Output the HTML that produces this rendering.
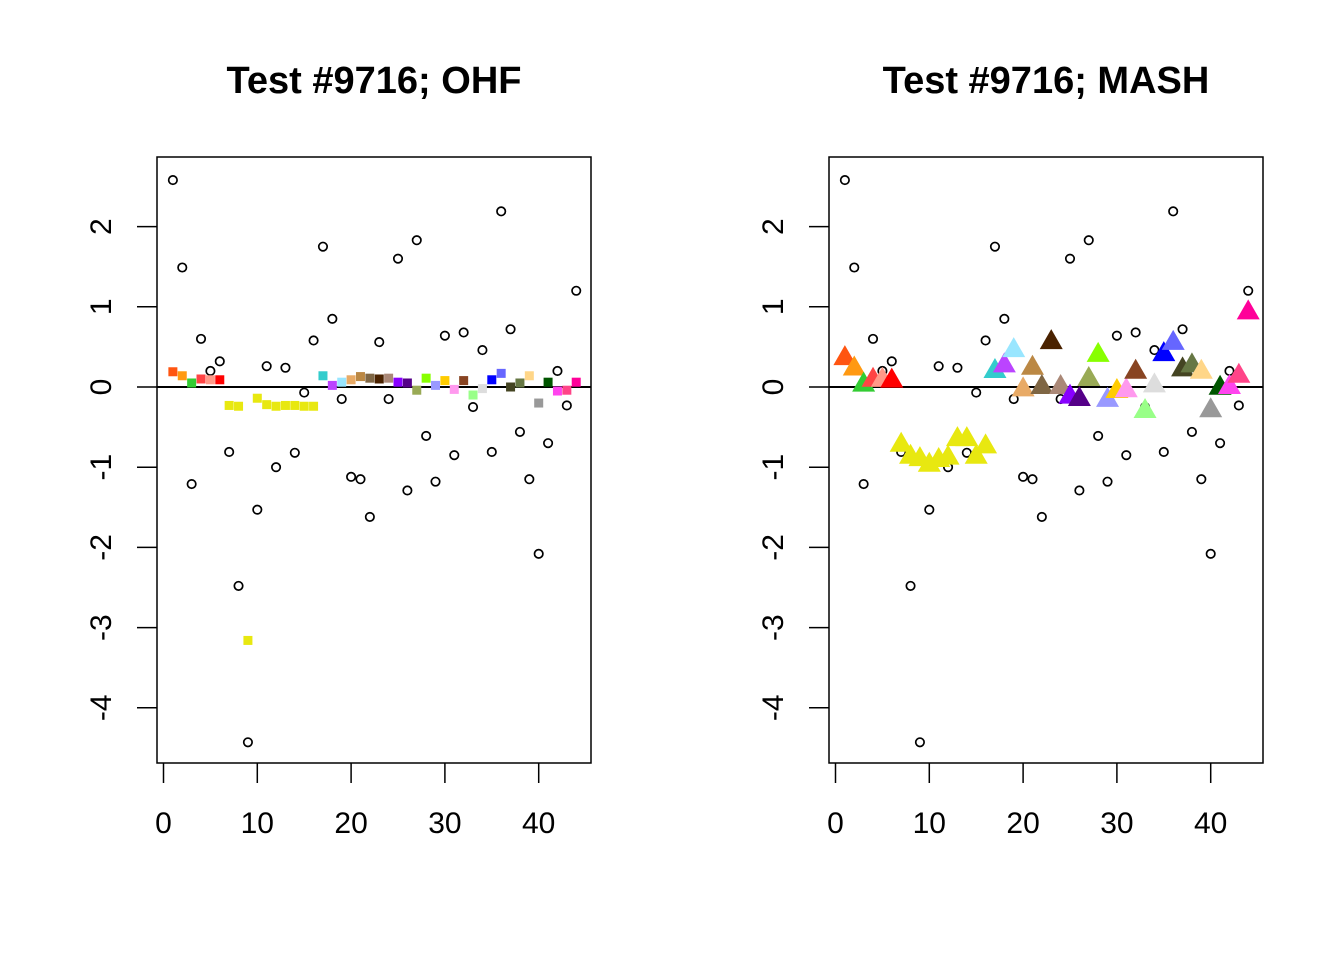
<!DOCTYPE html>
<html><head><meta charset="utf-8"><style>body{margin:0;background:#fff}svg{display:block}</style></head>
<body>
<svg id="chart" width="1344" height="960" xmlns="http://www.w3.org/2000/svg"></svg>
<script>
const xs = [1,2,3,4,5,6,7,8,9,10,11,12,13,14,15,16,17,18,19,20,21,22,23,24,25,26,27,28,29,30,31,32,33,34,35,36,37,38,39,40,41,42,43,44];
const obsValues = [2.58,1.49,-1.21,0.6,0.2,0.32,-0.81,-2.48,-4.43,-1.53,0.26,-1.0,0.24,-0.82,-0.07,0.58,1.75,0.85,-0.15,-1.12,-1.15,-1.62,0.56,-0.15,1.6,-1.29,1.83,-0.61,-1.18,0.64,-0.85,0.68,-0.25,0.46,-0.81,2.19,0.72,-0.56,-1.15,-2.08,-0.7,0.2,-0.23,1.2];
const ohfValues = [0.19,0.14,0.05,0.1,0.09,0.09,-0.23,-0.24,-3.16,-0.14,-0.22,-0.24,-0.23,-0.23,-0.24,-0.24,0.14,0.02,0.06,0.09,0.13,0.11,0.1,0.11,0.06,0.05,-0.04,0.11,0.02,0.08,-0.03,0.08,-0.1,-0.02,0.09,0.17,0.0,0.05,0.14,-0.2,0.06,-0.05,-0.04,0.06];
const mashValues = [0.36,0.23,0.03,0.09,0.09,0.08,-0.72,-0.87,-0.9,-0.97,-0.91,-0.88,-0.65,-0.65,-0.87,-0.74,0.2,0.27,0.46,-0.03,0.24,0.0,0.56,0.0,-0.12,-0.15,0.1,0.4,-0.16,-0.05,-0.04,0.19,-0.3,0.02,0.41,0.55,0.22,0.27,0.19,-0.29,-0.01,0.0,0.14,0.93];
const colors = ["#FF5511","#FF9911","#33CC33","#FF4444","#FF9988","#FF0000","#E8E810","#E8E810","#E8E810","#E8E810","#E8E810","#E8E810","#E8E810","#E8E810","#E8E810","#E8E810","#33CCCC","#BB44FF","#99E6FF","#E8AA66","#BB8844","#7F6644","#4A2200","#AA8877","#8800FF","#550088","#99AA55","#88FF00","#9999FF","#FFCC00","#FF99EE","#884422","#99FF88","#DDDDDD","#0000FF","#6666FF","#444422","#667744","#FFD688","#999999","#005500","#FF44EE","#FF4488","#FF0099"];
const xTicks = [0,10,20,30,40];
const yTicks = [-4,-3,-2,-1,0,1,2];
const titles = ["Test #9716; OHF","Test #9716; MASH"];

const NS="http://www.w3.org/2000/svg";
const svg=document.getElementById('chart');
function mk(tag,attrs,parent){const e=document.createElementNS(NS,tag);for(const k in attrs)e.setAttribute(k,attrs[k]);(parent||svg).appendChild(e);return e;}
const FONT='"Liberation Sans", Arial, sans-serif';

[0,1].forEach(p=>{
  const off=p*672;
  const X=v=>163.5+off+v*9.38;
  const Y=v=>387-v*80.2;
  const g=mk('g',{});
  
  
  const t=mk('text',{x:374+off,y:93,'text-anchor':'middle','font-family':FONT,'font-weight':'bold','font-size':38},g);
  t.textContent=titles[p];
  
  
  const box=mk('rect',{x:157+off,y:157,width:434,height:606,fill:'none',stroke:'#000','stroke-width':1.5},g);
  
  
  xTicks.forEach(v=>{
    const l=mk('line',{x1:X(v),x2:X(v),y1:763,y2:783,stroke:'#000','stroke-width':1.5},g);
    
    
    const tx=mk('text',{x:X(v),y:833,'text-anchor':'middle','font-family':FONT,'font-size':30},g);
    tx.textContent=v;
    
    
  });
  yTicks.forEach(v=>{
    const l=mk('line',{x1:137+off,x2:157+off,y1:Y(v),y2:Y(v),stroke:'#000','stroke-width':1.5},g);
    
    
    const tx=mk('text',{x:0,y:0,'text-anchor':'middle','font-family':FONT,'font-size':30,transform:`translate(${111+off},${Y(v)}) rotate(-90)`},g);
    tx.textContent=v;
    
    
  });
  const zl=mk('line',{x1:157+off,x2:591+off,y1:Y(0),y2:Y(0),stroke:'#000','stroke-width':2},g);
  
  
  xs.forEach((x,i)=>{
    const c=mk('circle',{cx:X(x),cy:Y(obsValues[i]),r:4.2,fill:'none',stroke:'#000','stroke-width':1.7},g);
    
    
  });
  xs.forEach((x,i)=>{
    if(p===0){
      const s=mk('rect',{x:X(x)-4.5,y:Y(ohfValues[i])-4.5,width:9,height:9,fill:colors[i]},g);
      
      
    } else {
      const cx=X(x),cy=Y(mashValues[i]);
      const tr=mk('polygon',{points:`${cx},${cy-13} ${cx-11.5},${cy+7} ${cx+11.5},${cy+7}`,fill:colors[i]},g);
      
      
    }
  });
});
</script>
</body></html>
